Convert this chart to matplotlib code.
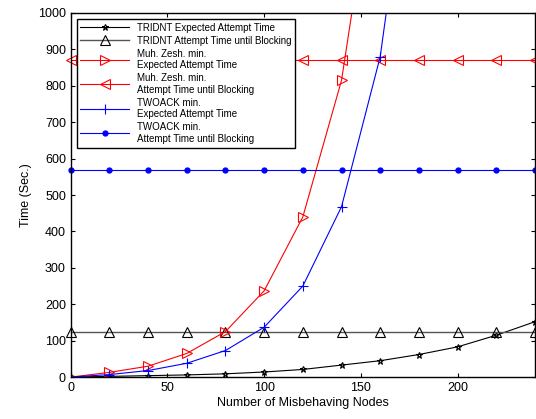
import matplotlib
matplotlib.use("Agg")
import matplotlib.pyplot as plt

plt.rcParams['font.family'] = ['Liberation Sans', 'DejaVu Sans']

nodes = [0, 20, 40, 60, 80, 100, 120, 140, 160, 180, 200, 220, 240]

tridnt_expected = [0, 2, 4, 6, 9, 14, 21, 33, 45, 62, 83, 115, 152]
tridnt_blocking = [125] * 13
muh_expected = [0, 13, 30, 65, 125, 237, 440, 815, 1510]
muh_blocking = [870] * 13
twoack_expected = [0, 7, 18, 38, 73, 137, 250, 468, 880, 1650]
twoack_blocking = [570] * 13

labels = [
    "TRIDNT Expected Attempt Time",
    "TRIDNT Attempt Time until Blocking",
    "Muh. Zesh. min.\nExpected Attempt Time",
    "Muh. Zesh. min.\nAttempt Time until Blocking",
    "TWOACK min.\nExpected Attempt Time",
    "TWOACK min.\nAttempt Time until Blocking",
]

fig = plt.figure(figsize=(5.36, 4.19), dpi=100)
ax = fig.add_axes([0.132, 0.100, 0.866, 0.869])

lw = 0.8
ax.plot(nodes, tridnt_expected, color='black', lw=lw, marker='*', ms=5,
        mfc='none', mew=0.8, label=labels[0])
ax.plot(nodes, tridnt_blocking, color='#555555', lw=1.0, marker='^', ms=7,
        mfc='none', mec='black', mew=0.8, label=labels[1], clip_on=False)
ax.plot(nodes[:len(muh_expected)], muh_expected, color='red', lw=lw, marker='>',
        ms=7, mfc='none', mew=0.8, label=labels[2])
ax.plot(nodes, muh_blocking, color='red', lw=lw, marker='<', ms=7,
        mfc='none', mew=0.8, label=labels[3], clip_on=False)
ax.plot(nodes[:len(twoack_expected)], twoack_expected, color='blue', lw=lw,
        marker='+', ms=7, mew=0.8, label=labels[4])
ax.plot(nodes, twoack_blocking, color='blue', lw=lw, marker='.', ms=7,
        label=labels[5], clip_on=False)

ax.set_xlim(0, 240)
ax.set_ylim(0, 1000)
ax.set_xticks([0, 50, 100, 150, 200])
ax.set_yticks(range(0, 1001, 100))
ax.tick_params(direction='in', top=True, right=True, labelsize=9, length=3)
for sp in ax.spines.values():
    sp.set_linewidth(1.0)

ax.set_xlabel("Number of Misbehaving Nodes", fontsize=9, labelpad=2)
ax.set_ylabel("Time (Sec.)", fontsize=9)

leg = ax.legend(loc='upper left', fontsize=7, handlelength=5, fancybox=False,
                framealpha=1, edgecolor='black', borderaxespad=0.6,
                labelspacing=0.3)
leg.get_frame().set_linewidth(1.0)

fig.savefig("out.png", dpi=100)
plt.close(fig)
